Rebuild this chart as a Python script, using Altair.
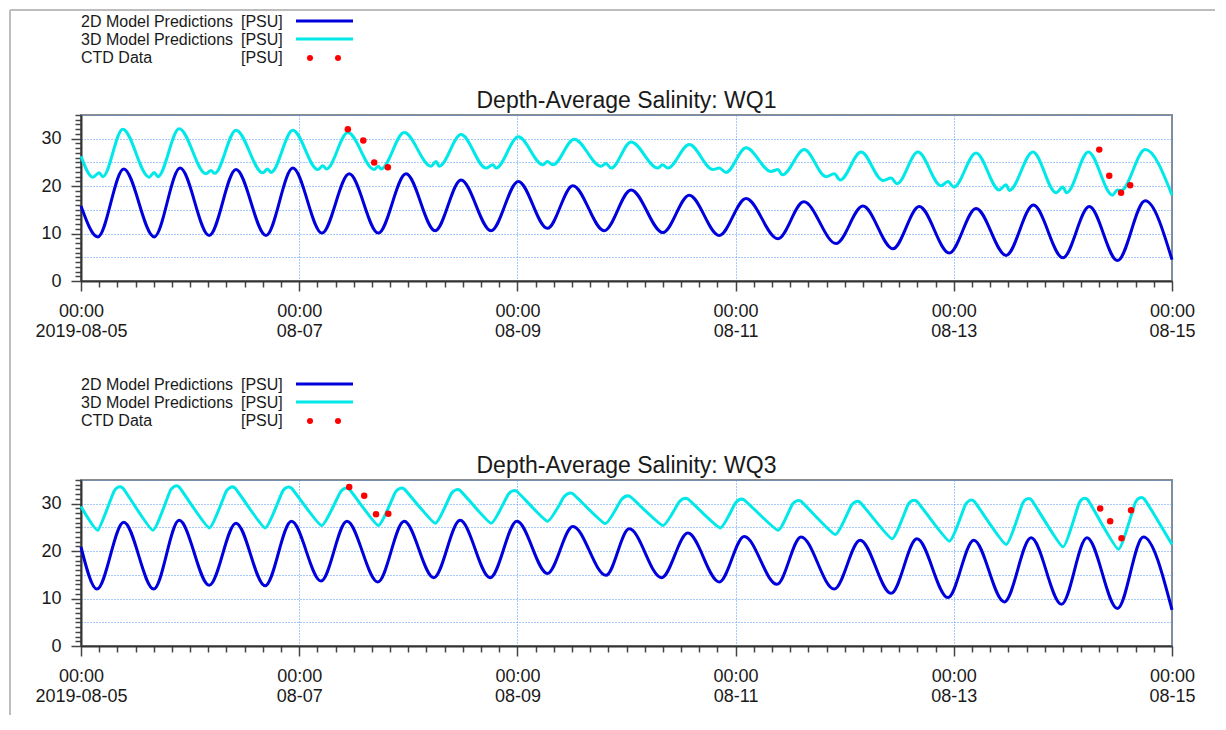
import altair as alt
import pandas as pd

START = pd.Timestamp("2019-08-05 00:00")

# ---------------- data (hours since 2019-08-05 00:00, salinity PSU) ----------------
LEGEND_NAMES = ["2D Model Predictions", "3D Model Predictions", "CTD Data"]
LEGEND_UNITS = ["[PSU]", "[PSU]", "[PSU]"]
TITLES = ["Depth-Average Salinity: WQ1", "Depth-Average Salinity: WQ3"]

wq1_2d_h = [0, 3.7, 9.4, 16.1, 21.8, 28.2, 34.1, 40.7, 46.6, 53.0, 59.0, 65.4, 71.5, 77.9, 83.6,
            90.2, 96.2, 102.6, 108.2, 115.1, 121.0, 128.0, 133.8, 140.4, 146.3, 153.3, 159.0,
            166.1, 172.0, 178.6, 184.4, 191.0, 196.9, 203.5, 209.5, 216.0, 221.8, 228.0, 234.1, 240]
wq1_2d_v = [15.8, 9.3, 23.6, 9.3, 23.8, 9.6, 23.5, 9.6, 23.8, 10.1, 22.6, 10.1, 22.6, 10.6, 21.3,
            10.6, 21.0, 11.1, 20.1, 10.6, 19.2, 10.2, 18.1, 9.6, 17.4, 8.9, 16.7,
            7.9, 15.8, 6.8, 15.7, 5.9, 15.3, 5.4, 16.0, 4.9, 15.7, 4.3, 16.9, 4.5]

wq1_3d_h = [0, 2.6, 4.0, 4.8, 9.2, 15.0, 16.1, 16.9, 21.6, 27.5, 28.6, 29.4, 34.1,
            40.0, 41.0, 41.8, 46.6, 52.1, 53.2, 54.0, 58.7, 64.5, 65.4, 66.0, 71.1,
            77.0, 78.1, 78.8, 83.6, 89.1, 90.6, 91.3, 96.2, 101.6, 102.6, 103.8, 108.5,
            114.4, 115.5, 116.6, 121.0, 126.9, 127.9, 129.1, 133.8, 139.0, 140.4, 141.9, 146.3,
            151.8, 153.3, 154.3, 159.1, 163.9, 165.7, 167.0, 171.6, 176.4, 178.2, 179.5, 184.1,
            189.2, 190.7, 192.0, 196.9, 202.0, 203.5, 204.2, 209.4, 214.5, 216.0, 216.8, 221.6,
            226.9, 228.0, 228.8, 234.1, 240]
wq1_3d_v = [26.3, 21.9, 22.8, 22.0, 32.0, 21.9, 22.9, 22.0, 32.1, 22.6, 23.3, 22.7, 31.8,
            22.8, 23.6, 22.9, 31.8, 23.5, 24.3, 23.6, 31.3, 23.5, 24.2, 23.6, 31.3,
            24.2, 25.2, 24.2, 30.9, 23.8, 24.5, 23.8, 30.4, 24.5, 25.2, 24.5, 29.9,
            24.2, 24.8, 23.8, 29.3, 23.8, 24.5, 23.8, 28.8, 23.5, 23.8, 22.9, 28.1,
            23.1, 23.5, 22.4, 27.7, 22.0, 22.6, 21.3, 27.2, 21.2, 21.7, 20.5, 27.2,
            20.1, 21.0, 19.8, 27.0, 19.2, 20.3, 19.1, 27.2, 18.6, 19.8, 18.6, 27.2,
            18.1, 19.2, 19.1, 27.7, 18.1]

wq1_ctd_h = [58.7, 62.1, 64.5, 67.5, 224.0, 226.2, 228.8, 230.8]
wq1_ctd_v = [32.0, 29.6, 25.0, 24.0, 27.7, 22.2, 18.6, 20.2]

wq3_2d_h = [0, 3.5, 9.4, 16.0, 21.6, 28.2, 34.1, 40.5, 46.3, 52.8, 58.5, 65.3, 71.1, 77.6, 83.4,
            90.0, 95.9, 102.6, 108.2, 115.5, 120.6, 127.7, 133.5, 140.4, 145.9, 153.1, 158.4,
            165.7, 171.4, 178.2, 183.9, 190.7, 196.4, 203.1, 209.0, 215.7, 221.3, 228.0, 233.7, 240]
wq3_2d_v = [20.9, 12.0, 26.1, 12.0, 26.5, 12.8, 25.9, 12.7, 26.3, 13.7, 26.3, 13.5, 26.3, 14.4, 26.5,
            14.4, 26.3, 15.3, 25.2, 14.9, 24.7, 14.4, 23.8, 13.5, 23.1, 13.0, 23.0,
            12.0, 22.3, 11.1, 22.6, 10.2, 22.3, 9.3, 22.8, 8.8, 22.8, 7.9, 23.0, 7.6]

# trough, start of flat top, end of flat top (peak) for each tidal cycle
wq3_3d_h = [0, 3.7, 7.3, 9.2, 15.8, 19.7, 21.6, 28.2, 32.0, 33.9, 40.5, 44.4, 46.3,
            52.9, 57.1, 59.0, 65.4, 69.2, 71.1, 77.9, 81.5, 83.4, 90.2, 94.0, 95.9,
            102.6, 106.3, 108.2, 115.3, 118.9, 120.8, 128.0, 131.6, 133.5, 140.6, 144.0, 145.9,
            153.3, 156.5, 158.4, 165.9, 169.5, 171.4, 178.4, 182.0, 183.9, 191.0, 194.6, 196.5,
            203.5, 207.2, 209.1, 216.0, 219.6, 221.5, 228.2, 232.0, 233.9, 240]
wq3_3d_v = [29.4, 24.4, 32.7, 33.3, 24.4, 32.9, 33.5, 24.9, 32.7, 33.3, 24.9, 32.7, 33.3,
            25.4, 32.5, 33.1, 25.4, 32.5, 33.1, 25.9, 32.2, 32.8, 25.9, 32.0, 32.6,
            26.3, 31.5, 32.1, 25.8, 30.9, 31.5, 25.4, 30.4, 31.0, 24.9, 30.2, 30.8,
            24.4, 29.9, 30.5, 23.5, 29.7, 30.3, 22.6, 29.9, 30.5, 22.1, 29.9, 30.5,
            21.4, 30.2, 30.8, 20.9, 30.2, 30.8, 20.4, 30.4, 31.0, 21.4]

wq3_ctd_h = [59.0, 62.3, 64.9, 67.6, 224.2, 226.4, 228.9, 231.0]
wq3_ctd_v = [33.5, 31.7, 27.8, 27.9, 29.0, 26.3, 22.7, 28.6]

# ---------------- styling ----------------
W, H = 1091, 166
FONT = "Liberation Sans"
BLUE = "#0000dc"
CYAN = "#00e8e8"
RED = "#ff0000"
GRID = "#4f93f5"
TXT = "#1a1a1a"


def to_time(hours):
    return (START + pd.to_timedelta(hours, unit="h")).round("s")


MAJOR_X = "hours(datum.value) === 0 && date(datum.value) % 2 === 1"
x_ticks = [alt.DateTime(year=2019, month=8, date=5 + h // 24, hours=h % 24) for h in range(0, 241, 4)]
x_domain = [alt.DateTime(year=2019, month=8, date=5, hours=0),
            alt.DateTime(year=2019, month=8, date=15, hours=0)]

x_axis = alt.Axis(
    values=x_ticks, title=None, grid=True,
    gridColor=GRID, gridDash=[1, 2], gridWidth=1,
    gridOpacity={"condition": {"test": MAJOR_X, "value": 1}, "value": 0},
    tickSize={"condition": {"test": MAJOR_X, "value": 10}, "value": 6},
    labelExpr=("(" + MAJOR_X + ") ? [timeFormat(datum.value, '%H:%M'), "
               "(date(datum.value) === 5 ? timeFormat(datum.value, '%Y-%m-%d') : timeFormat(datum.value, '%m-%d'))] : ''"),
    labelOverlap=False, labelFlush=False, labelBound=False,
    labelPadding=11, labelLineHeight=20, labelAlign="center", labelBaseline="top",
)
y_axis = alt.Axis(
    values=list(range(0, 36)), title=None, grid=True,
    gridColor=GRID, gridDash=[1, 2], gridWidth=1,
    gridOpacity={"condition": {"test": "datum.value % 5 === 0", "value": 1}, "value": 0},
    tickSize={"condition": {"test": "datum.value % 10 === 0", "value": 10}, "value": 6},
    labelExpr="datum.value % 10 === 0 ? datum.label : ''",
    labelOverlap=False, labelPadding=10, labelFlush=False,
)


def panel(title, h2, v2, h3, v3, hc, vc, line3_opts, legend_dy=0.0, frame=False):
    d2 = pd.DataFrame({"time": to_time(h2), "sal": v2})
    d3 = pd.DataFrame({"time": to_time(h3), "sal": v3})
    dc = pd.DataFrame({"time": to_time(hc), "sal": vc})
    x = alt.X("time:T", scale=alt.Scale(domain=x_domain), axis=x_axis)
    y = alt.Y("sal:Q", scale=alt.Scale(domain=[0, 35], nice=False), axis=y_axis)

    layers = [
        alt.Chart(d3).mark_line(color=CYAN, strokeWidth=3, strokeJoin="round",
                                **line3_opts).encode(x=x, y=y),
        alt.Chart(d2).mark_line(color=BLUE, strokeWidth=3, interpolate="monotone").encode(x=x, y=y),
        alt.Chart(dc).mark_circle(color=RED, size=42, opacity=1).encode(x=x, y=y),
    ]

    # title
    layers.append(
        alt.Chart(pd.DataFrame({"t": [title]})).mark_text(
            font=FONT, fontSize=23, color=TXT, align="center", baseline="alphabetic"
        ).encode(text="t:N", x=alt.value(W / 2), y=alt.value(-7))
    )

    # legend
    for i, (name, unit) in enumerate(zip(LEGEND_NAMES, LEGEND_UNITS)):
        base_y = -88 + 18 * i + legend_dy
        ld = pd.DataFrame({"name": [name], "unit": [unit]})
        layers.append(alt.Chart(ld).mark_text(font=FONT, fontSize=16, color=TXT, align="left",
                                              baseline="alphabetic")
                      .encode(text="name:N", x=alt.value(0), y=alt.value(base_y)))
        layers.append(alt.Chart(ld).mark_text(font=FONT, fontSize=16, color=TXT, align="left",
                                              baseline="alphabetic")
                      .encode(text="unit:N", x=alt.value(160), y=alt.value(base_y)))
    for i, col in enumerate([BLUE, CYAN]):
        ly = -94 + 18 * i + legend_dy
        layers.append(alt.Chart(pd.DataFrame({"s": [LEGEND_NAMES[i]]})).mark_rule(color=col, strokeWidth=3)
                      .encode(x=alt.value(215), x2=alt.value(272), y=alt.value(ly), y2=alt.value(ly)))
    for dx in (229, 257):
        layers.append(alt.Chart(pd.DataFrame({"s": [LEGEND_NAMES[2]]})).mark_circle(color=RED, size=36, opacity=1)
                      .encode(x=alt.value(dx), y=alt.value(-57 + legend_dy)))

    if frame:
        fd = pd.DataFrame({"f": ["frame"]})
        layers.append(alt.Chart(fd).mark_rule(color="#bdbdbd", strokeWidth=2)
                      .encode(x=alt.value(-71), x2=alt.value(1134), y=alt.value(-105), y2=alt.value(-105)))
        layers.append(alt.Chart(fd).mark_rule(color="#bdbdbd", strokeWidth=2)
                      .encode(x=alt.value(-71), y=alt.value(-105), y2=alt.value(600)))

    return alt.layer(*layers).properties(width=W, height=H)


p1 = panel(TITLES[0], wq1_2d_h, wq1_2d_v, wq1_3d_h, wq1_3d_v, wq1_ctd_h, wq1_ctd_v,
           {"interpolate": "monotone"}, 0.0, frame=True)
p2 = panel(TITLES[1], wq3_2d_h, wq3_2d_v, wq3_3d_h, wq3_3d_v, wq3_ctd_h, wq3_ctd_v,
           {"interpolate": "cardinal", "tension": 0.55}, -2.0)

chart = alt.vconcat(p1, p2, spacing=199, bounds="flush", padding=0).configure_view(
    stroke="#8c8c8c", strokeWidth=2
).configure_axis(
    labelFont=FONT, labelFontSize=18, labelColor=TXT,
    domainColor="#333333", domainWidth=2, tickColor="#444444", tickWidth=1.5,
)

chart.save("out.html", embed_options={"renderer": "svg", "actions": False})
